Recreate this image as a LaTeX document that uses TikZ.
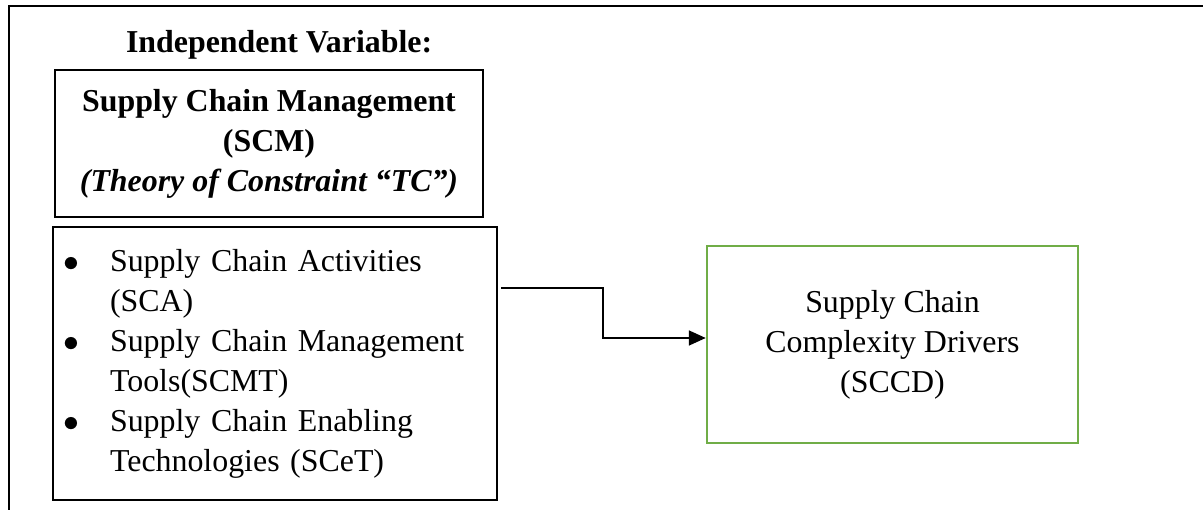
\documentclass[tikz,border=0pt]{standalone}
\usepackage{fontspec}
\setmainfont{Liberation Serif}
\usetikzlibrary{arrows.meta,positioning}
\definecolor{boxgreen}{RGB}{112,173,71}

\begin{document}
\begin{tikzpicture}[
  x=0.345pt, y=-0.345pt,
  font=\fontsize{11}{13.8}\selectfont,
  box/.style={draw=black, rectangle, line width=0.5pt, align=center, inner sep=3pt},
  listbox/.style={draw=black, rectangle, line width=0.5pt, align=left, inner xsep=3.8pt,
    text width=145.6pt, minimum height=94.2pt},
  outcome/.style={draw=boxgreen, rectangle, line width=0.9pt, align=center,
    minimum width=128pt, minimum height=68pt},
  arrow/.style={-{Triangle[length=5.8pt,width=5.2pt]}, line width=0.4pt},
  frame/.style={line width=0.7pt},
]
  \useasboundingbox (0,0) rectangle (1203,510);

  % outer frame
  \coordinate (framebl) at (9,510);
  \coordinate (framecorner) at (9,6);
  \coordinate (frametr) at (1203,6);
  \draw[frame] (framebl) -- (framecorner) -- (frametr);

  \node[box, minimum width=147.7pt, minimum height=50.7pt] (scm) at (269,143.5)
    {\textbf{Supply Chain Management}\\\textbf{(SCM)}\\\textbf{\textit{(Theory of Constraint “TC”)}}};
  \node[above=0pt of scm, xshift=3.5pt, font=\fontsize{11}{13.8}\selectfont\bfseries] (title)
    {Independent Variable:};

  \node[listbox] (dims) at (275,363.5)
    {\makebox[15.9pt][l]{$\bullet$}Supply Chain Activities\\
     \hspace*{15.9pt}(SCA)\\
     \makebox[15.9pt][l]{$\bullet$}Supply Chain Management\\
     \hspace*{15.9pt}Tools(SCMT)\\
     \makebox[15.9pt][l]{$\bullet$}Supply Chain Enabling\\
     \hspace*{15.9pt}Technologies (SCeT)};

  \node[outcome] (sccd) at (892.5,344.5) {Supply Chain\\Complexity Drivers\\(SCCD)};

  \coordinate (start) at (501,288);
  \coordinate (bend) at (603,338);
  \draw[arrow] (start) -| (bend) -- (sccd.west |- bend);
\end{tikzpicture}
\end{document}
